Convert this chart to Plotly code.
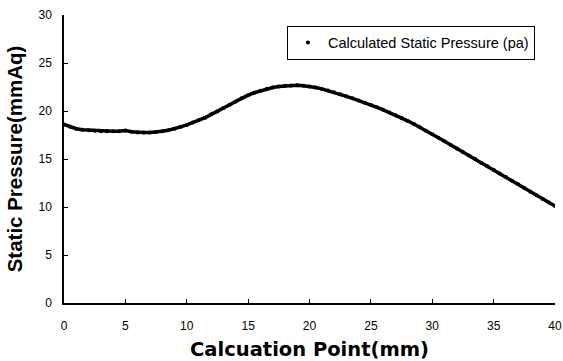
import plotly.graph_objects as go

# Calculation points (mm)
calc_point_mm = [i * 0.5 for i in range(81)]

# Calculated static pressure (mmAq)
static_pressure = [
    18.60, 18.35, 18.15, 18.05, 18.00, 17.95, 17.90, 17.90, 17.88, 17.90,
    17.96, 17.85, 17.76, 17.75, 17.75, 17.80, 17.90, 18.00, 18.15, 18.35,
    18.55, 18.80, 19.05, 19.30, 19.65, 19.95, 20.30, 20.65, 21.00, 21.35,
    21.65, 21.90, 22.10, 22.30, 22.45, 22.55, 22.62, 22.66, 22.67, 22.62,
    22.55, 22.45, 22.30, 22.13, 21.95, 21.75, 21.53, 21.32, 21.10, 20.87,
    20.63, 20.38, 20.12, 19.85, 19.57, 19.28, 18.97, 18.65, 18.31, 17.95,
    17.58, 17.21, 16.84, 16.47, 16.10, 15.73, 15.36, 14.99, 14.62, 14.25,
    13.88, 13.50, 13.12, 12.74, 12.36, 11.98, 11.60, 11.22, 10.84, 10.46,
    10.10,
]

x_ticks = [0, 5, 10, 15, 20, 25, 30, 35, 40]
y_ticks = [0, 5, 10, 15, 20, 25, 30]

fig = go.Figure()
fig.add_trace(go.Scatter(
    x=calc_point_mm, y=static_pressure, mode="lines",
    line=dict(color="black", width=3.5), showlegend=False, hoverinfo="skip",
))
fig.add_trace(go.Scatter(
    x=calc_point_mm, y=static_pressure, mode="markers",
    marker=dict(color="black", size=4),
    name="Calculated Static Pressure (pa)",
))

axis_common = dict(
    showline=True, linecolor="black", linewidth=1.5,
    ticks="inside", ticklen=4, tickcolor="black",
    showgrid=False, zeroline=False, automargin=False,
    tickfont=dict(family="Liberation Sans, Arial", size=12, color="black"),
)

fig.update_layout(
    width=563, height=361,
    margin=dict(l=64, r=8, t=15, b=58),
    paper_bgcolor="white", plot_bgcolor="white",
    xaxis=dict(range=[0, 40], tickvals=x_ticks, ticklabelstandoff=11,
               title=dict(text="Calcuation Point(mm)", standoff=13,
                          font=dict(family="DejaVu Sans, Arial", size=19.5, color="black", weight="bold")),
               **axis_common),
    yaxis=dict(range=[0, 30], tickvals=y_ticks, ticklabelstandoff=8,
               title=dict(text="Static Pressure(mmAq)", standoff=10,
                          font=dict(family="Liberation Sans, Arial", size=20.5, color="black", weight="bold")),
               **axis_common),
    legend=dict(
        x=0.454, y=0.963, xanchor="left", yanchor="top",
        bordercolor="black", borderwidth=1, bgcolor="white",
        font=dict(family="Liberation Sans, Arial", size=14.5, color="black"),
        itemsizing="trace", entrywidth=234,
    ),
)

fig.write_html(
    "out.html",
    config={"displayModeBar": False},
    post_script="document.body.style.margin='0';document.body.style.overflow='hidden';",
)
